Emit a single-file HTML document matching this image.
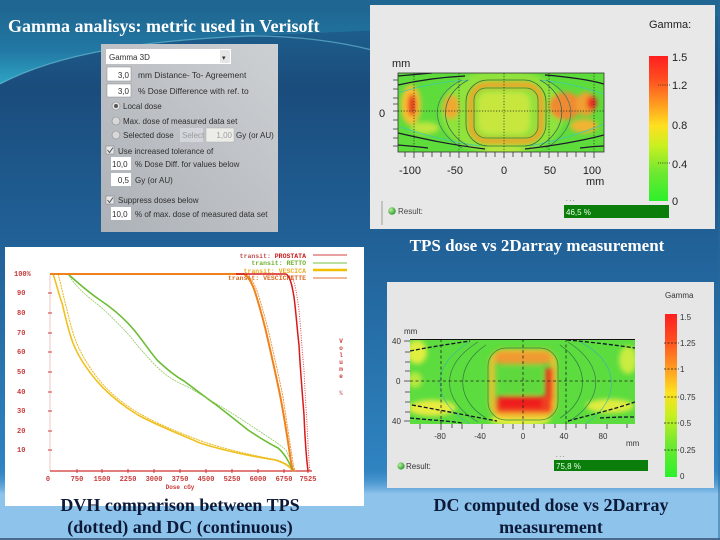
<!DOCTYPE html>
<html>
<head>
<meta charset="utf-8">
<style>
html,body{margin:0;padding:0;background:#1d5a8c;}
#wrap{position:relative;width:720px;height:540px;overflow:hidden;}
svg{position:absolute;left:0;top:0;}
</style>
</head>
<body>
<div id="wrap">
<svg width="720" height="540" viewBox="0 0 720 540" xmlns="http://www.w3.org/2000/svg">
<defs>
  <linearGradient id="bg" x1="0" y1="0" x2="0" y2="540" gradientUnits="userSpaceOnUse">
    <stop offset="0" stop-color="#1f6795"/>
    <stop offset="0.16" stop-color="#1a4c7c"/>
    <stop offset="0.5" stop-color="#22659c"/>
    <stop offset="0.85" stop-color="#2e82bf"/>
    <stop offset="1" stop-color="#3a90cc"/>
  </linearGradient>
  <linearGradient id="sw" x1="0" y1="10" x2="0" y2="85" gradientUnits="userSpaceOnUse">
    <stop offset="0" stop-color="#1f6792"/>
    <stop offset="0.55" stop-color="#2278a4"/>
    <stop offset="1" stop-color="#2ea6c4"/>
  </linearGradient>
  <linearGradient id="band" x1="0" y1="468" x2="0" y2="494" gradientUnits="userSpaceOnUse">
    <stop offset="0" stop-color="#3a8ccb" stop-opacity="0"/>
    <stop offset="1" stop-color="#8ec3ec"/>
  </linearGradient>
  <linearGradient id="dlg" x1="0" y1="1" x2="1" y2="0">
    <stop offset="0" stop-color="#adb2b8"/>
    <stop offset="1" stop-color="#cdd0d3"/>
  </linearGradient>
  <linearGradient id="cbar" x1="0" y1="0" x2="0" y2="1">
    <stop offset="0" stop-color="#ff1f1f"/>
    <stop offset="0.15" stop-color="#ff4a20"/>
    <stop offset="0.33" stop-color="#ff9a20"/>
    <stop offset="0.48" stop-color="#ffe020"/>
    <stop offset="0.62" stop-color="#c8f020"/>
    <stop offset="0.8" stop-color="#70e830"/>
    <stop offset="1" stop-color="#2cf02c"/>
  </linearGradient>
  <radialGradient id="ball" cx="0.35" cy="0.35" r="0.7">
    <stop offset="0" stop-color="#b8f0a0"/>
    <stop offset="1" stop-color="#2a9a2a"/>
  </radialGradient>
  <filter id="b3" x="-20%" y="-20%" width="140%" height="140%"><feGaussianBlur stdDeviation="2.5"/></filter>
  <filter id="b1"><feGaussianBlur stdDeviation="0.6"/></filter>
  <clipPath id="c1"><rect x="398" y="73" width="206" height="79"/></clipPath>
  <clipPath id="c2"><rect x="410" y="339" width="225" height="85"/></clipPath>
</defs>

<!-- background -->
<rect width="720" height="540" fill="url(#bg)"/>
<path d="M0,0 H720 V16 C560,22 380,30 250,36 C150,40 60,52 0,84 Z" fill="url(#sw)"/>
<path d="M0,84 C60,52 150,40 250,36 C300,36 340,42 372,50" fill="none" stroke="#78cfe0" stroke-width="1.2" opacity="0.55"/>
<rect x="0" y="468" width="720" height="26" fill="url(#band)"/>
<rect x="0" y="494" width="720" height="46" fill="#8ec3ec"/>
<rect x="0" y="538" width="720" height="2" fill="#4a6c8c"/>
<rect x="718" y="0" width="2" height="540" fill="#2a6a9a" opacity="0.5"/>

<!-- title -->
<text x="8" y="32" font-family="Liberation Serif, serif" font-weight="bold" font-size="18" fill="#ffffff">Gamma analisys: metric used in Verisoft</text>

<!-- dialog -->
<rect x="101" y="44" width="177" height="188" fill="url(#dlg)"/>
<g font-family="Liberation Sans, sans-serif" font-size="8" fill="#2e2e2e">
  <rect x="106" y="49" width="125" height="15" fill="#fff"/>
  <rect x="220" y="50" width="10" height="13" fill="#e6e6e6"/>
  <text x="109" y="60">Gamma 3D</text>
  <text x="222" y="60" font-size="7">▾</text>
  <rect x="107" y="67" width="24" height="14" fill="#fff" stroke="#8a8a8a" stroke-width="0.5"/>
  <text x="129" y="78" text-anchor="end">3,0</text>
  <text x="138" y="78" font-size="8.4">mm Distance- To- Agreement</text>
  <rect x="107" y="84" width="24" height="13" fill="#fff" stroke="#8a8a8a" stroke-width="0.5"/>
  <text x="129" y="94" text-anchor="end">3,0</text>
  <text x="138" y="94" font-size="8.4">% Dose Difference with ref. to</text>
  <circle cx="116" cy="106" r="4" fill="#e4e4e4" stroke="#8a8a8a" stroke-width="0.6"/>
  <circle cx="116" cy="106" r="2" fill="#555"/>
  <text x="123" y="109">Local dose</text>
  <circle cx="116" cy="121" r="4" fill="#d8d8d8" stroke="#8a8a8a" stroke-width="0.6"/>
  <text x="123" y="124">Max. dose of measured data set</text>
  <circle cx="116" cy="135" r="4" fill="#d8d8d8" stroke="#8a8a8a" stroke-width="0.6"/>
  <text x="123" y="138">Selected dose</text>
  <rect x="180" y="128" width="23" height="14" fill="#d3d7db"/>
  <text x="182" y="138" fill="#9a9a9a">Select</text>
  <rect x="206" y="128" width="28" height="14" fill="#ecece8" stroke="#b0b0b0" stroke-width="0.5"/>
  <text x="232" y="138" text-anchor="end" fill="#a0a0a0">1,00</text>
  <text x="236" y="138">Gy (or AU)</text>
  <rect x="106" y="146" width="8" height="8" fill="#e8e8e8" stroke="#888" stroke-width="0.6"/>
  <path d="M107.5,150 L109.5,152.5 L113,147.5" fill="none" stroke="#555" stroke-width="1"/>
  <text x="118" y="154">Use increased tolerance of</text>
  <rect x="111" y="157" width="20" height="13" fill="#fff"/>
  <text x="112" y="167">10,0</text>
  <text x="135" y="167">% Dose Diff. for values below</text>
  <rect x="111" y="173" width="20" height="13" fill="#fff"/>
  <text x="129" y="183" text-anchor="end">0,5</text>
  <text x="135" y="183">Gy (or AU)</text>
  <rect x="106" y="196" width="8" height="8" fill="#e8e8e8" stroke="#888" stroke-width="0.6"/>
  <path d="M107.5,200 L109.5,202.5 L113,197.5" fill="none" stroke="#555" stroke-width="1"/>
  <text x="118" y="203">Suppress doses below</text>
  <rect x="111" y="207" width="20" height="13" fill="#fff"/>
  <text x="112" y="217">10,0</text>
  <text x="135" y="217">% of max. dose of measured data set</text>
</g>

<!-- TOP GAMMA PANEL -->
<rect x="370" y="5" width="345" height="224" fill="#e8e8e8"/>
<g clip-path="url(#c1)">
  <rect x="398" y="73" width="206" height="79" fill="#5edc3c"/>
  <g filter="url(#b3)">
    <ellipse cx="503" cy="112" rx="62" ry="44" fill="#a2e63a" opacity="0.7"/>
    <rect x="478" y="92" width="52" height="42" rx="10" fill="#d4e840" opacity="0.8"/>
    <rect x="471" y="85" width="70" height="56" rx="16" fill="none" stroke="#f0a028" stroke-width="6"/>
    <ellipse cx="411" cy="105" rx="10" ry="20" fill="#f8c030"/>
    <ellipse cx="412" cy="105" rx="4" ry="11" fill="#e82020"/>
    <ellipse cx="451" cy="107" rx="8" ry="12" fill="#f0a830"/>
    <ellipse cx="565" cy="106" rx="16" ry="14" fill="#f08a30"/>
    <ellipse cx="586" cy="104" rx="10" ry="12" fill="#f0a030"/>
    <ellipse cx="592" cy="103" rx="5" ry="7" fill="#e82a20"/>
    <ellipse cx="584" cy="126" rx="14" ry="7" fill="#f0b430"/>
    <ellipse cx="425" cy="128" rx="14" ry="6" fill="#d8e840" opacity="0.8"/>
    <ellipse cx="503" cy="150" rx="20" ry="4" fill="#b8e840"/>
  </g>
  <g fill="none" stroke-width="0.8">
    <path d="M398,93 C420,86 445,81 470,80" stroke="#40c8b0"/>
    <path d="M540,80 C565,82 585,88 604,94" stroke="#40c8b0"/>
    <path d="M400,127 C425,135 450,142 480,146" stroke="#40c8b0"/>
    <path d="M530,146 C560,140 585,132 604,124" stroke="#40c8b0"/>
    <path d="M468,80 C440,95 436,128 468,146 M540,80 C568,95 570,128 540,146" stroke="#3a6a4a"/>
    <path d="M462,80 C430,95 428,128 462,148 M546,80 C578,95 580,128 546,148" stroke="#4a7a5a"/>
    <rect x="466" y="80" width="80" height="66" rx="22" stroke="#2a7a3a"/>
    <rect x="474" y="88" width="64" height="50" rx="12" stroke="#2a8a3a"/>
  </g>
  <g fill="none" stroke="#1a1a2a" stroke-width="1.2">
    <path d="M398,76 C410,75 420,74 432,73"/>
    <path d="M398,85 C420,80 445,77 465,76"/>
    <path d="M545,75 C570,77 590,80 604,84"/>
    <path d="M398,133 C420,138 445,144 485,149"/>
    <path d="M525,149 C560,145 585,140 604,135"/>
    <path d="M398,145 C410,146 420,147 428,148"/>
    <path d="M580,148 C590,147 598,146 604,146"/>
  </g>
  <g stroke="#222" stroke-width="0.7" stroke-dasharray="1.2,1.6">
    <line x1="414" y1="73" x2="414" y2="152"/>
    <line x1="459" y1="73" x2="459" y2="152"/>
    <line x1="504" y1="73" x2="504" y2="152"/>
    <line x1="549" y1="73" x2="549" y2="152"/>
    <line x1="594" y1="73" x2="594" y2="152"/>
    <line x1="398" y1="111" x2="604" y2="111"/>
  </g>
</g>
<rect x="398" y="73" width="206" height="79" fill="none" stroke="#333" stroke-width="0.8"/>
<g stroke="#333" stroke-width="0.8">
  <path d="M405,152 v5 M414,152 v6 M423,152 v5 M432,152 v5 M441,152 v5 M450,152 v5 M459,152 v6 M468,152 v5 M477,152 v5 M486,152 v5 M495,152 v5 M504,152 v6 M513,152 v5 M522,152 v5 M531,152 v5 M540,152 v5 M549,152 v6 M558,152 v5 M567,152 v5 M576,152 v5 M585,152 v5 M594,152 v6"/>
  <path d="M393,80 h5 M393,89 h5 M393,98 h5 M393,104 h5 M393,111 h5 M393,120 h5 M393,129 h5 M393,138 h5 M393,146 h5"/>
</g>
<g font-family="Liberation Sans, sans-serif" font-size="11" fill="#222">
  <text x="392" y="67">mm</text>
  <text x="379" y="117">0</text>
  <text x="410" y="174" text-anchor="middle">-100</text>
  <text x="455" y="174" text-anchor="middle">-50</text>
  <text x="504" y="174" text-anchor="middle">0</text>
  <text x="550" y="174" text-anchor="middle">50</text>
  <text x="592" y="174" text-anchor="middle">100</text>
  <text x="586" y="185">mm</text>
  <text x="649" y="28">Gamma:</text>
  <text x="672" y="61">1.5</text>
  <text x="672" y="89">1.2</text>
  <text x="672" y="129">0.8</text>
  <text x="672" y="168">0.4</text>
  <text x="672" y="205">0</text>
</g>
<rect x="649" y="56" width="19" height="145" fill="url(#cbar)"/>
<g stroke="#222" stroke-width="0.8" stroke-dasharray="1,1.2">
  <line x1="658" y1="85" x2="671" y2="85"/>
  <line x1="658" y1="163" x2="671" y2="163"/>
</g>
<line x1="382" y1="201" x2="382" y2="225" stroke="#888" stroke-width="0.8"/>
<circle cx="392" cy="211" r="3.8" fill="url(#ball)"/>
<text x="398" y="214" font-family="Liberation Sans, sans-serif" font-size="8" fill="#444">Result:</text>
<rect x="564" y="205" width="105" height="13" fill="#0b7d0b"/>
<text x="566" y="215" font-family="Liberation Sans, sans-serif" font-size="8" fill="#e8ffe8">46,5 %</text>
<text x="566" y="201" font-family="Liberation Sans, sans-serif" font-size="6" fill="#444">.  .  .</text>

<!-- TPS caption -->
<text x="537" y="251" text-anchor="middle" font-family="Liberation Serif, serif" font-weight="bold" font-size="17" fill="#ffffff">TPS dose vs 2Darray measurement</text>

<!-- BOTTOM GAMMA PANEL -->
<rect x="387" y="282" width="327" height="206" fill="#e6e6e6"/>
<g clip-path="url(#c2)">
  <rect x="410" y="339" width="225" height="85" fill="#5cdc3e"/>
  <g filter="url(#b3)">
    <ellipse cx="417" cy="352" rx="10" ry="12" fill="#e0ee40"/>
    <ellipse cx="415" cy="380" rx="7" ry="8" fill="#b8e840"/>
    <ellipse cx="432" cy="408" rx="24" ry="8" fill="#e8ec40"/>
    <ellipse cx="628" cy="360" rx="9" ry="14" fill="#c8ec40"/>
    <ellipse cx="610" cy="406" rx="24" ry="7" fill="#e0ec40"/>
    <ellipse cx="520" cy="420" rx="30" ry="6" fill="#e8f040"/>
    <rect x="492" y="352" width="62" height="64" rx="12" fill="none" stroke="#f0c030" stroke-width="6"/>
    <rect x="495" y="352" width="56" height="12" rx="5" fill="#f09a30"/>
    <rect x="545" y="368" width="8" height="32" fill="#e84020"/>
    <rect x="496" y="396" width="56" height="17" rx="4" fill="#f04020"/>
    <rect x="500" y="398" width="42" height="10" fill="#ee1a1a"/>
    <rect x="500" y="366" width="42" height="28" rx="6" fill="#5ed83e"/>
  </g>
  <g fill="none" stroke-width="0.7">
    <path d="M486,345 C455,365 455,400 486,418 M560,345 C590,365 590,400 560,418" stroke="#2c7a3c"/>
    <path d="M478,342 C440,365 440,400 478,422 M568,342 C605,365 605,400 568,422" stroke="#3a7a4a"/>
    <path d="M470,342 C430,365 430,400 470,424" stroke="#40b8a0"/>
    <path d="M580,342 C620,362 622,400 585,424" stroke="#40b8a0"/>
    <rect x="488" y="348" width="70" height="72" rx="18" stroke="#2a8a3a"/>
  </g>
  <g fill="none" stroke="#10182a" stroke-width="1.3" stroke-dasharray="4,2">
    <path d="M410,351 C430,347 450,344 470,341"/>
    <path d="M567,340 C590,342 615,345 635,348"/>
    <path d="M412,405 C440,410 470,416 497,421"/>
    <path d="M410,418 C430,420 450,421 462,423"/>
    <path d="M568,421 C590,415 615,409 635,402"/>
    <path d="M600,418 C615,417 625,417 635,417"/>
  </g>
  <g stroke="#222" stroke-width="0.8" stroke-dasharray="3,2.5">
    <line x1="441" y1="339" x2="441" y2="424"/>
    <line x1="523" y1="339" x2="523" y2="424"/>
    <line x1="566" y1="339" x2="566" y2="424"/>
    <line x1="410" y1="381" x2="635" y2="381"/>
  </g>
</g>
<line x1="410" y1="339.5" x2="635" y2="339.5" stroke="#111" stroke-width="1"/>
<g stroke="#333" stroke-width="0.8">
  <path d="M420,424 v5 M441,424 v6 M452,424 v4 M462,424 v5 M482,424 v5 M503,424 v4 M513,424 v5 M523,424 v6 M534,424 v4 M544,424 v5 M555,424 v4 M566,424 v6 M576,424 v4 M586,424 v5 M607,424 v5 M627,424 v4"/>
  <path d="M404,341 h6 M405,352 h5 M405,362 h5 M405,371 h5 M404,381 h6 M405,392 h5 M405,402 h5 M405,412 h5 M404,421 h6"/>
</g>
<g font-family="Liberation Sans, sans-serif" font-size="8" fill="#333">
  <text x="404" y="334">mm</text>
  <text x="392" y="344">40</text>
  <text x="396" y="384">0</text>
  <text x="392" y="424">40</text>
  <text x="440" y="439" text-anchor="middle">-80</text>
  <text x="480" y="439" text-anchor="middle">-40</text>
  <text x="523" y="439" text-anchor="middle">0</text>
  <text x="564" y="439" text-anchor="middle">40</text>
  <text x="603" y="439" text-anchor="middle">80</text>
  <text x="626" y="446">mm</text>
  <text x="665" y="298">Gamma</text>
  <text x="680" y="320">1.5</text>
  <text x="680" y="346">1.25</text>
  <text x="680" y="372">1</text>
  <text x="680" y="400">0.75</text>
  <text x="680" y="426">0.5</text>
  <text x="680" y="453">0.25</text>
  <text x="680" y="479">0</text>
  <text x="406" y="469">Result:</text>
</g>
<rect x="665" y="314" width="12" height="163" fill="url(#cbar)"/>
<g stroke="#222" stroke-width="0.8" stroke-dasharray="2,1.5">
  <line x1="664" y1="343" x2="679" y2="343"/>
  <line x1="664" y1="369" x2="679" y2="369"/>
  <line x1="664" y1="397" x2="679" y2="397"/>
  <line x1="664" y1="423" x2="679" y2="423"/>
  <line x1="664" y1="450" x2="679" y2="450"/>
</g>
<circle cx="401" cy="466" r="3.6" fill="url(#ball)"/>
<rect x="554" y="460" width="94" height="11" fill="#0b7d0b"/>
<text x="556" y="469" font-family="Liberation Sans, sans-serif" font-size="8" fill="#e8ffe8">75,8 %</text>
<text x="556" y="457" font-family="Liberation Sans, sans-serif" font-size="6" fill="#444">.  .  .</text>

<!-- DVH PANEL -->
<rect x="5" y="247" width="359" height="259" fill="#ffffff"/>
<g font-family="Liberation Mono, monospace" font-weight="bold" font-size="7" fill="#c83a3a">
  <text x="14" y="276">100%</text>
  <text x="17" y="295">90</text>
  <text x="17" y="315">80</text>
  <text x="17" y="335">70</text>
  <text x="17" y="354">60</text>
  <text x="17" y="374">50</text>
  <text x="17" y="394">40</text>
  <text x="17" y="413">30</text>
  <text x="17" y="433">20</text>
  <text x="17" y="452">10</text>
  <g text-anchor="middle">
    <text x="48" y="481">0</text>
    <text x="77" y="481">750</text>
    <text x="102" y="481">1500</text>
    <text x="128" y="481">2250</text>
    <text x="154" y="481">3000</text>
    <text x="180" y="481">3750</text>
    <text x="206" y="481">4500</text>
    <text x="232" y="481">5250</text>
    <text x="258" y="481">6000</text>
    <text x="284" y="481">6750</text>
    <text x="308" y="481">7525</text>
    <text x="180" y="489" font-size="6">Dose cGy</text>
    <text x="341" y="343" font-size="6">V</text>
    <text x="341" y="350" font-size="6">o</text>
    <text x="341" y="357" font-size="6">l</text>
    <text x="341" y="364" font-size="6">u</text>
    <text x="341" y="371" font-size="6">m</text>
    <text x="341" y="378" font-size="6">e</text>
    <text x="341" y="395" font-size="6" fill="#c88080">%</text>
  </g>
  <g text-anchor="end" font-size="6.5">
    <text x="306" y="258"><tspan fill="#c05050">transit: </tspan><tspan fill="#c81818">PROSTATA</tspan></text>
    <text x="306" y="265" fill="#70b030">transit: RETTO</text>
    <text x="306" y="273" fill="#e8b020">transit: VESCICA</text>
    <text x="306" y="280" fill="#d86a20">transit: VESCICHETTE</text>
  </g>
</g>
<g stroke-width="1">
  <line x1="313" y1="255" x2="347" y2="255" stroke="#d04040"/>
  <line x1="313" y1="263" x2="347" y2="263" stroke="#70c040"/>
  <line x1="313" y1="270" x2="347" y2="270" stroke="#f0c000" stroke-width="2.5"/>
  <line x1="313" y1="278" x2="347" y2="278" stroke="#e07030"/>
</g>
<!-- axes -->
<line x1="50" y1="274" x2="50" y2="471" stroke="#e8a0a0" stroke-width="0.6"/>
<line x1="50" y1="471" x2="312" y2="471" stroke="#d03030" stroke-width="1.3"/>
<g stroke="#c83a3a" stroke-width="1">
  <path d="M48,293 h4 M48,313 h4 M48,333 h4 M48,352 h4 M48,372 h4 M48,392 h4 M48,411 h4 M48,431 h4 M48,450 h4"/>
  <path d="M77,469 v4 M102,469 v4 M128,469 v4 M154,469 v4 M180,469 v4 M206,469 v4 M232,469 v4 M258,469 v4 M284,469 v4 M308,469 v4"/>
</g>
<!-- curves -->
<g fill="none" stroke-linejoin="round">
  <!-- yellow VESCICA -->
  <path d="M53,274 C56,282 58,292 62,303 C65,315 68,330 73,343 C78,356 86,368 96,380 C106,392 120,404 138,415 C156,425 175,432 200,443 C225,451 250,456 275,460 C285,463 289,466 293,471" stroke="#f0c020" stroke-width="1.6"/>
  <path d="M58,274 C61,284 63,295 66,306 C69,318 72,332 77,344 C83,357 90,369 100,381 C110,393 124,405 142,415 C160,425 180,433 204,442 C228,450 252,455 277,460 C286,463 290,466 295,471" stroke="#e8b818" stroke-width="1" stroke-dasharray="2,0.8"/>
  <!-- green RETTO -->
  <path d="M68,274 C78,283 88,292 100,300 C112,308 124,318 134,330 C144,342 150,352 158,361 C168,370 175,376 184,381 C196,390 205,397 215,404 C228,414 238,422 248,430 C260,438 268,443 278,448 C285,454 289,462 293,471" stroke="#6cbc34" stroke-width="1.6"/>
  <path d="M68,274 C74,284 82,292 92,300 C104,309 116,321 128,334 C138,346 146,356 156,366 C166,376 176,382 188,387 C200,394 210,400 220,406 C232,413 244,421 256,429 C268,437 278,443 286,450 C290,458 292,464 294,471" stroke="#90c860" stroke-width="0.8" stroke-dasharray="2,0.8"/>
  <!-- orange VESCICHETTE -->
  <path d="M50,274 L244,274 C249,277 253,285 256,295 C260,308 264,322 268,340 C272,358 276,375 280,395 C284,415 287,435 290,455 C291,463 292,468 293,471" stroke="#f0821e" stroke-width="2"/>
  <path d="M246,274 C252,278 256,287 259,297 C263,310 267,324 271,342 C275,360 279,377 283,397 C286,417 289,437 292,456 C293,464 294,468 295,471" stroke="#e89030" stroke-width="0.9" stroke-dasharray="2,0.8"/>
  <!-- red PROSTATA -->
  <path d="M236,274 L286,274 C290,276 292,285 294,297 C296,312 297,328 299,345 C300,365 302,390 304,415 C305,440 306,455 308,471" stroke="#d81a1a" stroke-width="1.5"/>
  <path d="M292,276 C295,283 297,295 299,310 C301,330 302,350 304,370 C305,395 307,420 308,445 C309,458 309,465 310,471" stroke="#e04040" stroke-width="1" stroke-dasharray="1,1.4"/>
</g>

<!-- captions -->
<g font-family="Liberation Serif, serif" font-weight="bold" font-size="18" fill="#0c1a38" text-anchor="middle">
  <text x="180" y="511">DVH comparison between TPS</text>
  <text x="180" y="533">(dotted) and DC (continuous)</text>
  <text x="551" y="511">DC computed dose vs 2Darray</text>
  <text x="551" y="533">measurement</text>
</g>
</svg>
</div>
</body>
</html>
